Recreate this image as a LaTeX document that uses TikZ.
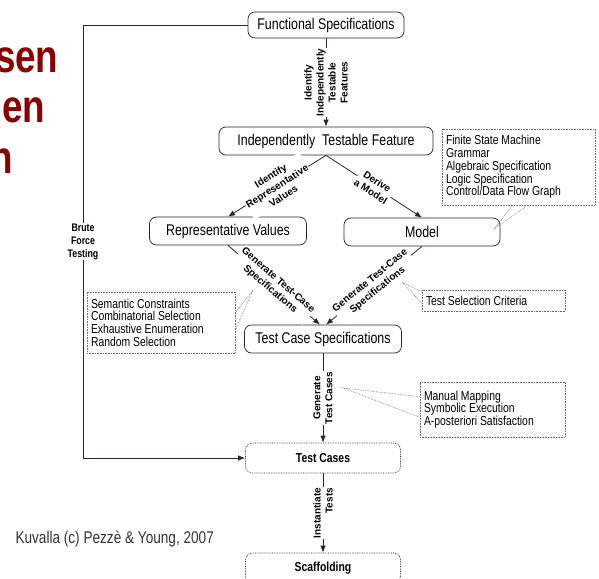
\documentclass[tikz,border=0pt]{standalone}
\usepackage{fontspec}
\setmainfont{Liberation Sans}
\setsansfont{Liberation Sans}
\newfontfamily\diagfont{Liberation Sans}[FakeStretch=0.8]
\usetikzlibrary{arrows.meta,calc}
\definecolor{inkline}{RGB}{35,38,55}
\definecolor{slidered}{RGB}{139,0,0}

\begin{document}
\begin{tikzpicture}[x=1pt,y=-1pt,font=\diagfont,
  stepbox/.style={draw=inkline,line width=.7pt,rounded corners=7pt,minimum width=156pt,minimum height=28pt,inner sep=2pt,font=\diagfont\fontsize{15.5}{17}\selectfont},
  notebox/.style={draw=inkline!70,densely dotted,line width=.6pt,align=flush left,inner xsep=4pt,inner ysep=2pt,font=\diagfont\fontsize{13}{12.7}\selectfont},
  flowlbl/.style={fill=white,inner sep=1pt,align=center,font=\sffamily\bfseries\fontsize{10}{12}\selectfont},
  flow/.style={draw=inkline,line width=.8pt,-{Latex[length=7pt,width=5.5pt]}},
  pointer/.style={draw=inkline!70,densely dotted,line width=.6pt}]
\useasboundingbox (0,0) rectangle (599,578);
\clip (0,0) rectangle (599,578);
\fill[white] (0,0) rectangle (599,578);
% slide title remains
\node[anchor=base east,text=slidered,font=\diagfont\bfseries\fontsize{46}{50}\selectfont] (t1) at (62,72) {sen};
\node[anchor=base east,text=slidered,font=\diagfont\bfseries\fontsize{46}{50}\selectfont] (t2) at (49,122) {en};
\node[anchor=base east,text=slidered,font=\diagfont\bfseries\fontsize{46}{50}\selectfont] (t3) at (17,173) {n};
% steps
\node[stepbox,minimum height=26pt] (fs) at (326,25) {Functional Specifications};
\node[stepbox,minimum width=214pt] (itf) at (326,141) {Independently\ \ Testable Feature};
\node[stepbox,minimum width=157pt] (rv) at (228,231) {Representative Values};
\node[stepbox] (model) at (422,232) {Model};
\node[stepbox,minimum width=157pt] (tcs) at (323,339) {Test Case Specifications};
\node[stepbox,densely dotted,minimum width=155pt,minimum height=30pt,font=\diagfont\bfseries\fontsize{13}{15}\selectfont] (tc) at (323,458) {Test Cases};
\node[stepbox,densely dotted,minimum width=155pt,minimum height=30pt,font=\diagfont\bfseries\fontsize{13}{15}\selectfont] (scaf) at (323,568) {Scaffolding};
% arrows
\draw[flow] (fs) -- node[flowlbl,rotate=90]{Identify\\Independently\\Testable\\Features} (itf);
\draw[flow] (itf.south) -- node[flowlbl,sloped]{Identify\\Representative\\Values} (rv.north);
\draw[flow] (itf.south) -- node[flowlbl,sloped]{Derive\\a Model} (model.north);
\draw[flow] (rv.south) -- node[flowlbl,sloped]{Generate Test-Case\\Specifications} ([xshift=-3pt]tcs.north);
\draw[flow] (model.south) -- node[flowlbl,sloped]{Generate Test-Case\\Specifications} ([xshift=3pt]tcs.north);
\draw[flow] (tcs) -- node[flowlbl,rotate=90]{Generate\\Test Cases} (tc);
\draw[flow] (tc) -- node[flowlbl,rotate=90,align=right]{Instantiate\\Tests} (scaf);
\coordinate (bfcorner) at (83,458);
\draw[flow] (fs.west) -| node[pos=.75,flowlbl,font=\diagfont\bfseries\fontsize{11}{13}\selectfont]{Brute\\Force\\Testing} (bfcorner) -- (tc.west);
% notes
\node[notebox,text width=145pt,minimum height=76pt] (fsm) at (518.5,167) {Finite State Machine\\Grammar\\Algebraic Specification\\Logic Specification\\Control/Data Flow Graph};
\node[notebox,text width=140pt,minimum height=61pt] (sem) at (161,322.5) {Semantic Constraints\\Combinatorial Selection\\Exhaustive Enumeration\\Random Selection};
\node[notebox,text width=135pt,minimum height=21pt] (tsc) at (493.5,300.5) {Test Selection Criteria};
\node[notebox,text width=137pt,minimum height=55pt] (mm) at (492.5,409.5) {Manual Mapping\\Symbolic Execution\\A-posteriori Satisfaction};
\coordinate (fsmtip) at (494,229);
\draw[pointer] ($(fsm.south west)!.46!(fsm.south east)$) -- (fsmtip) -- ($(fsm.south west)!.56!(fsm.south east)$);
\coordinate (semtip) at (253,290);
\draw[pointer] ($(sem.north east)!.34!(sem.south east)$) -- (semtip) -- ($(sem.north east)!.62!(sem.south east)$);
\coordinate (tsctip) at (402,282);
\draw[pointer] ($(tsc.north west)!.1!(tsc.south west)$) -- (tsctip) -- ($(tsc.north west)!.62!(tsc.south west)$);
\coordinate (mmtip) at (343,388);
\draw[pointer] ($(mm.north west)!.27!(mm.south west)$) -- (mmtip) -- ($(mm.north west)!.64!(mm.south west)$);
\node[anchor=base west,text=black!80,font=\diagfont\fontsize{17}{20}\selectfont] (credit) at (12,543) {Kuvalla (c) Pezzè \& Young, 2007};
\end{tikzpicture}
\end{document}
